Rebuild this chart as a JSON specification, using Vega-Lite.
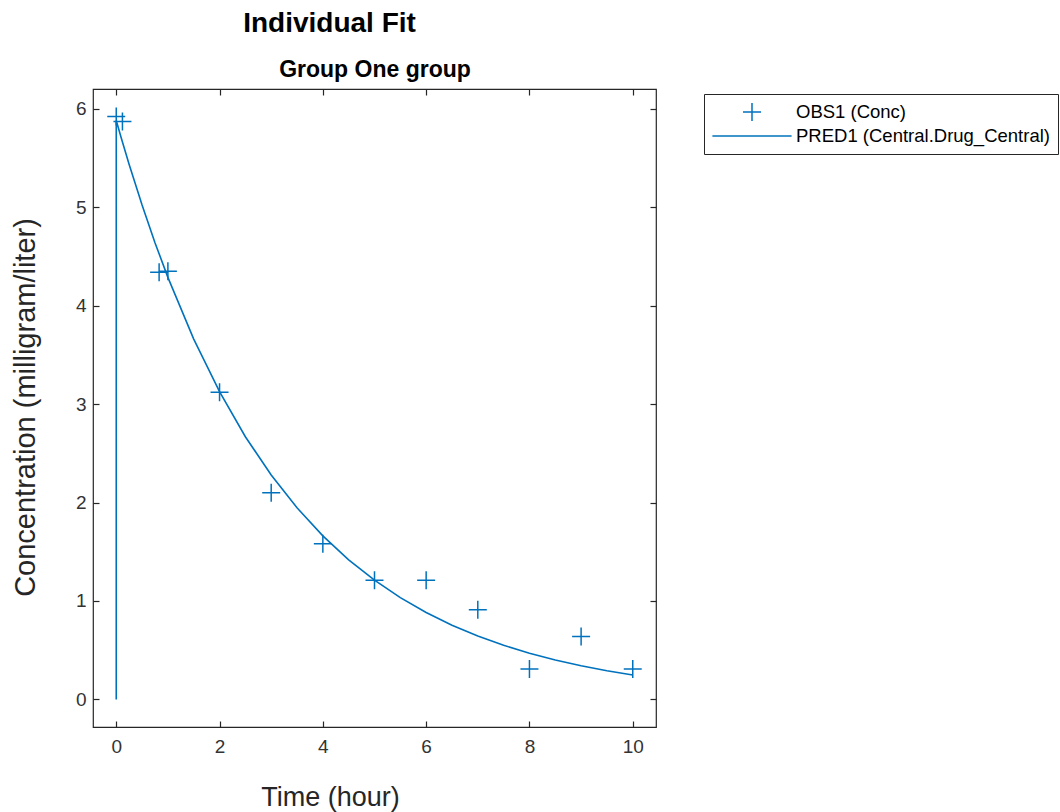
{
  "$schema": "https://vega.github.io/schema/vega-lite/v6.json",
  "autosize": "none",
  "width": 563,
  "height": 638,
  "padding": {"left": 93, "top": 89, "right": 404, "bottom": 85},
  "background": "white",
  "title": {
    "text": "Individual Fit",
    "font": "Liberation Sans",
    "fontSize": 28,
    "fontWeight": "bold",
    "color": "#000000",
    "anchor": "middle",
    "dx": -45,
    "offset": 20
  },
  "datasets": {
    "obs": [
      {"time": 0, "conc": 5.92, "series": "OBS1 (Conc)"},
      {"time": 0.12, "conc": 5.87, "series": "OBS1 (Conc)"},
      {"time": 0.83, "conc": 4.34, "series": "OBS1 (Conc)"},
      {"time": 1, "conc": 4.35, "series": "OBS1 (Conc)"},
      {"time": 2, "conc": 3.12, "series": "OBS1 (Conc)"},
      {"time": 3, "conc": 2.10, "series": "OBS1 (Conc)"},
      {"time": 4, "conc": 1.58, "series": "OBS1 (Conc)"},
      {"time": 5, "conc": 1.21, "series": "OBS1 (Conc)"},
      {"time": 6, "conc": 1.21, "series": "OBS1 (Conc)"},
      {"time": 7, "conc": 0.91, "series": "OBS1 (Conc)"},
      {"time": 8, "conc": 0.31, "series": "OBS1 (Conc)"},
      {"time": 9, "conc": 0.64, "series": "OBS1 (Conc)"},
      {"time": 10, "conc": 0.31, "series": "OBS1 (Conc)"}
    ],
    "pred": [
      {"ord": 0, "time": 0, "conc": 0},
      {"ord": 1, "time": 0, "conc": 5.88},
      {"ord": 2, "time": 0.1, "conc": 5.697},
      {"ord": 3, "time": 0.25, "conc": 5.433},
      {"ord": 4, "time": 0.5, "conc": 5.021},
      {"ord": 5, "time": 0.75, "conc": 4.639},
      {"ord": 6, "time": 1, "conc": 4.287},
      {"ord": 7, "time": 1.5, "conc": 3.660},
      {"ord": 8, "time": 2, "conc": 3.126},
      {"ord": 9, "time": 2.5, "conc": 2.668},
      {"ord": 10, "time": 3, "conc": 2.279},
      {"ord": 11, "time": 3.5, "conc": 1.946},
      {"ord": 12, "time": 4, "conc": 1.661},
      {"ord": 13, "time": 4.5, "conc": 1.418},
      {"ord": 14, "time": 5, "conc": 1.211},
      {"ord": 15, "time": 5.5, "conc": 1.034},
      {"ord": 16, "time": 6, "conc": 0.883},
      {"ord": 17, "time": 6.5, "conc": 0.754},
      {"ord": 18, "time": 7, "conc": 0.644},
      {"ord": 19, "time": 7.5, "conc": 0.550},
      {"ord": 20, "time": 8, "conc": 0.469},
      {"ord": 21, "time": 8.5, "conc": 0.401},
      {"ord": 22, "time": 9, "conc": 0.342},
      {"ord": 23, "time": 9.5, "conc": 0.292},
      {"ord": 24, "time": 10, "conc": 0.249}
    ]
  },
  "resolve": {"axis": {"x": "independent", "y": "independent"}},
  "layer": [
    {
      "data": {"name": "pred"},
      "mark": {"type": "line", "color": "#0072BD", "strokeWidth": 1.6, "clip": true},
      "encoding": {
        "x": {
          "field": "time", "type": "quantitative",
          "scale": {"domain": [-0.45, 10.45], "nice": false, "zero": false},
          "axis": {
            "orient": "bottom",
            "values": [0, 2, 4, 6, 8, 10],
            "title": "Time (hour)",
            "titleFontSize": 27,
            "titleX": 237,
            "titleY": 78,
            "titleBaseline": "alphabetic",
            "titleAlign": "center",
            "labelPadding": 16
          }
        },
        "y": {
          "field": "conc", "type": "quantitative",
          "scale": {"domain": [-0.28, 6.2], "nice": false, "zero": false},
          "axis": {
            "orient": "left",
            "values": [0, 1, 2, 3, 4, 5, 6],
            "title": "Concentration (milligram/liter)",
            "titleFontSize": 29,
            "titleX": -59,
            "titleY": 318,
            "titleAngle": -90,
            "titleBaseline": "alphabetic",
            "titleAlign": "center",
            "labelPadding": 13
          }
        },
        "order": {"field": "ord", "type": "quantitative"}
      }
    },
    {
      "data": {"name": "obs"},
      "mark": {"type": "point", "filled": false, "color": "#0072BD", "strokeWidth": 1.5, "size": 324, "opacity": 1},
      "encoding": {
        "x": {
          "field": "time", "type": "quantitative",
          "scale": {"domain": [-0.45, 10.45], "nice": false, "zero": false},
          "axis": {
            "orient": "top",
            "values": [0, 2, 4, 6, 8, 10],
            "labels": false,
            "title": "Group One group",
            "titleFontSize": 23,
            "titleFontWeight": "bold",
            "titleColor": "#000000",
            "titleX": 281.5,
            "titleY": -13,
            "titleBaseline": "alphabetic",
            "titleAlign": "center"
          }
        },
        "y": {
          "field": "conc", "type": "quantitative",
          "scale": {"domain": [-0.28, 6.2], "nice": false, "zero": false},
          "axis": {
            "orient": "right",
            "values": [0, 1, 2, 3, 4, 5, 6],
            "labels": false,
            "title": null
          }
        },
        "shape": {
          "field": "series", "type": "nominal",
          "scale": {
            "domain": ["OBS1 (Conc)", "PRED1 (Central.Drug_Central)"],
            "range": ["M-1,0H1M0,-1V1", "M-4.4,0H4.4"]
          },
          "legend": {
            "orient": "none",
            "legendX": 611,
            "legendY": 5,
            "title": null,
            "padding": 8,
            "strokeColor": "#262626",
            "fillColor": "white",
            "symbolSize": 324,
            "symbolStrokeColor": "#0072BD",
            "symbolStrokeWidth": 1.5,
            "symbolFillColor": "transparent",
            "symbolOffset": 30,
            "labelOffset": 34,
            "labelFontSize": 18.5,
            "labelFont": "Liberation Sans",
            "labelColor": "#000000",
            "labelLimit": 600,
            "rowPadding": 2
          }
        }
      }
    }
  ],
  "config": {
    "view": {"stroke": "#262626", "strokeWidth": 1.2},
    "axis": {
      "domain": false,
      "grid": false,
      "ticks": true,
      "tickSize": -6,
      "tickColor": "#262626",
      "tickWidth": 1.2,
      "labelFont": "Liberation Sans",
      "labelFontSize": 19,
      "labelColor": "#333333",
      "titleFont": "Liberation Sans",
      "titleFontSize": 28,
      "titleFontWeight": "normal",
      "titleColor": "#262626"
    }
  }
}
